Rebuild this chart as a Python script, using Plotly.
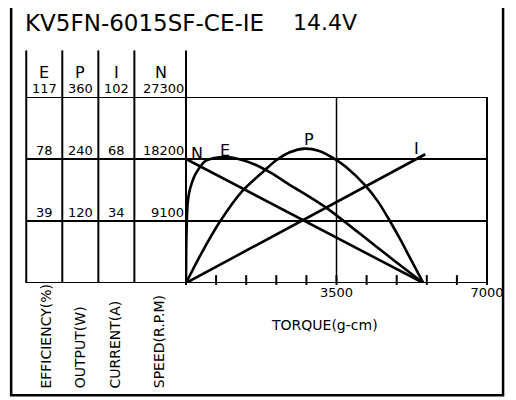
import plotly.graph_objects as go

# values
torque_eff = [0, 5, 15, 38, 75, 136, 211, 325, 438, 665, 921, 1223, 1600, 1978,
              2430, 2883, 3261, 3714, 4093, 4800, 5520]
efficiency = [0, 20, 35, 50, 57, 63, 68, 73, 76.5, 78.6, 79.2, 78, 74.5, 69.2,
              61.4, 54, 47.4, 38, 30, 15, 0]

torque_out = [0, 362, 790, 1298, 1842, 2091, 2416, 2763, 3080, 3500, 3715, 4168,
              4470, 4734, 4999, 5225, 5520]
output_w = [0, 58, 119, 177, 219, 237, 253, 260, 256, 238, 225, 189, 157, 121, 82, 46, 0]

torque_speed = [0, 5520]
speed_rpm = [18200, 0]

torque_cur = [0, 5565]
current_a = [0, 70.6]

x_ticks = [0, 700, 1400, 2100, 2800, 3500, 4200, 4900, 5600, 6300, 7000]
x_ticklabels = ["", "", "", "", "", "3500", "", "", "", "", "7000"]

columns = ["E", "P", "I", "N"]
eff_levels = [117, 78, 39]
out_levels = [360, 240, 120]
cur_levels = [102, 68, 34]
speed_levels = [27300, 18200, 9100]
axis_titles = ["EFFICIENCY(%)", "OUTPUT(W)", "CURRENT(A)", "SPEED(R.P.M)"]

title = "KV5FN-6015SF-CE-IE"
voltage = "14.4V"

FONT = "DejaVu Sans"
INK = "black"


def px_x(px):
    # pixel column -> paper x (plot area spans 186..495)
    return (px - 186) / 309


def px_y(py):
    # pixel row -> paper y (plot area spans 97.3..283.3)
    return (283.3 - py) / 186


fig = go.Figure()
straight = dict(color=INK, width=2.6)
curved = dict(color=INK, width=2.6, shape="spline", smoothing=0.8)
fig.add_trace(go.Scatter(x=torque_speed, y=speed_rpm, mode="lines", line=straight, yaxis="y"))
fig.add_trace(go.Scatter(x=torque_eff, y=efficiency, mode="lines", line=curved, yaxis="y2"))
fig.add_trace(go.Scatter(x=torque_out, y=output_w, mode="lines", line=curved, yaxis="y3"))
fig.add_trace(go.Scatter(x=torque_cur, y=current_a, mode="lines", line=straight, yaxis="y4"))

# small upward tick marks along the torque axis (short vertical markers sitting on the axis)
tick_lift = 3 / 186 * speed_levels[0]
fig.add_trace(go.Scatter(
    x=x_ticks, y=[tick_lift] * len(x_ticks), mode="markers", yaxis="y", cliponaxis=False,
    marker=dict(symbol="line-ns", size=7, line=dict(color=INK, width=2)),
))

shapes = []
rule = dict(color=INK, width=2)
# horizontal rules (plot grid + table rows)
for lvl in speed_levels + [0]:
    shapes.append(dict(type="line", xref="paper", yref="y", x0=px_x(22), x1=1,
                       y0=lvl, y1=lvl, line=rule))
# table column rules
for cx in [22, 59, 96, 133, 186]:
    shapes.append(dict(type="line", xref="paper", yref="paper", x0=px_x(cx), x1=px_x(cx),
                       y0=0, y1=px_y(50.7), line=rule))
shapes.append(dict(type="line", xref="paper", yref="paper", x0=1, x1=1, y0=0, y1=1, line=rule))
shapes.append(dict(type="line", xref="x", yref="paper", x0=3500, x1=3500, y0=0, y1=1,
                   line=dict(color=INK, width=1.5)))
# outer border
shapes.append(dict(type="rect", xref="paper", yref="paper", x0=px_x(6.5), x1=px_x(511.5),
                   y0=px_y(395.5), y1=px_y(5.5), line=dict(color=INK, width=2.5)))

ann = []
ann.append(dict(text=title, xref="paper", yref="paper", x=px_x(19), y=px_y(23),
                xanchor="left", yanchor="middle", showarrow=False, font=dict(size=23)))
ann.append(dict(text=voltage, xref="paper", yref="paper", x=px_x(294), y=px_y(23),
                xanchor="left", yanchor="middle", showarrow=False, font=dict(size=22)))

col_centers = [40.5, 77.5, 114.5, 160]
for name, cx in zip(columns, col_centers):
    ann.append(dict(text=name, xref="paper", yref="paper", x=px_x(cx), y=px_y(61),
                    xanchor="center", showarrow=False, font=dict(size=16)))

for levels, cx, ax in [(eff_levels, 40.5, "y2"), (out_levels, 77.5, "y3"), (cur_levels, 114.5, "y4")]:
    for v in levels:
        ann.append(dict(text=str(v), xref="paper", yref=ax, x=px_x(cx), y=v, xanchor="center",
                        yanchor="bottom", yshift=-1, showarrow=False, font=dict(size=13)))
for v in speed_levels:
    ann.append(dict(text=str(v), xref="paper", yref="y", x=px_x(186), y=v, xanchor="right",
                    yanchor="bottom", yshift=-1, showarrow=False, font=dict(size=13)))

for t, cx in zip(axis_titles, [42.7, 76.7, 113, 158.3]):
    ann.append(dict(text=t, xref="paper", yref="paper", x=px_x(cx), y=px_y(391),
                    xanchor="center", yanchor="bottom", textangle=-90, showarrow=False,
                    font=dict(size=14)))
ann.append(dict(text="TORQUE(g-cm)", xref="paper", yref="paper", x=px_x(328), y=px_y(335.7),
                xanchor="center", showarrow=False, font=dict(size=14)))

# curve labels
for t, lx, ly in [("N", 265, 19080), ("E", 906, 19418), ("P", 2861, 21135), ("I", 5352, 19815)]:
    ann.append(dict(text=t, xref="x", yref="y", x=lx, y=ly, xanchor="center",
                    showarrow=False, font=dict(size=16)))

hidden = dict(showgrid=False, zeroline=False, showticklabels=False, ticks="", showline=False)
# page body has an 8px margin, so the figure is drawn 8px short on each side
fig.update_layout(
    width=508,
    height=392,
    margin=dict(l=178, r=21, t=89, b=117),
    paper_bgcolor="white",
    plot_bgcolor="white",
    showlegend=False,
    font=dict(family=FONT, color=INK, size=14),
    xaxis=dict(range=[0, 7000], tickvals=x_ticks, ticktext=x_ticklabels, ticks="",
               showgrid=False, zeroline=False, showline=False, tickfont=dict(size=13)),
    yaxis=dict(range=[0, 27300], **hidden),
    yaxis2=dict(range=[0, 117], overlaying="y", **hidden),
    yaxis3=dict(range=[0, 360], overlaying="y", **hidden),
    yaxis4=dict(range=[0, 102], overlaying="y", **hidden),
    shapes=shapes,
    annotations=ann,
)
fig.write_html("out.html")
